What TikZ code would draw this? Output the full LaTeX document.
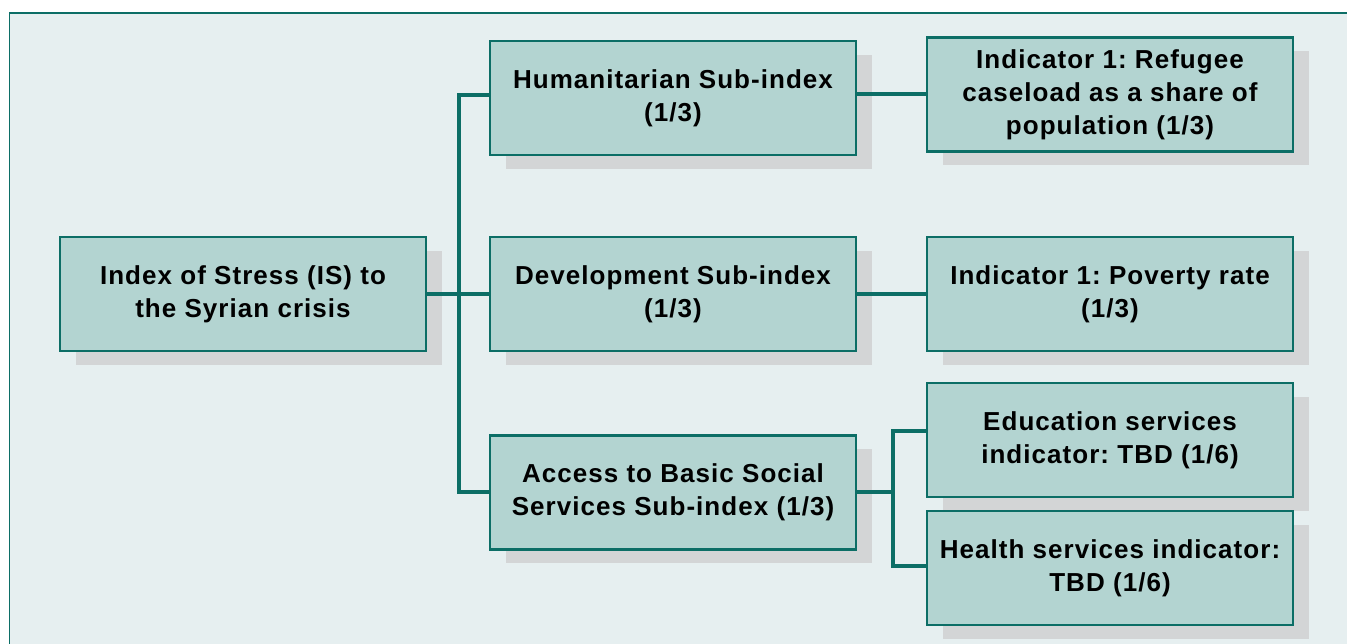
\documentclass[tikz,border=0pt]{standalone}
\usepackage{fontspec}
\setmainfont{Liberation Sans}[LetterSpace=4]
\usetikzlibrary{shadows}
\frenchspacing

\definecolor{panelfill}{HTML}{E6EFF0}
\definecolor{tealline}{HTML}{0C6E66}
\definecolor{boxfill}{HTML}{B3D4D1}
\definecolor{shadowgray}{HTML}{D3D5D6}

\tikzset{
  indexbox/.style={draw=tealline, line width=2.5pt, fill=boxfill,
    minimum width=366pt, minimum height=114pt, inner sep=0pt, align=center,
    font=\fontsize{26}{33}\selectfont\bfseries,
    drop shadow={shadow xshift=16pt, shadow yshift=-14pt, fill=shadowgray, opacity=1}},
  link/.style={draw=tealline, line width=4pt}
}

\begin{document}
\begin{tikzpicture}[x=1pt, y=1pt]
  \useasboundingbox (0,0) rectangle (1347,644);
  \clip (0,0) rectangle (1347,644);

  % Draw panel
  \draw[draw=tealline, line width=1.5pt, fill=panelfill] (9.5,631) rectangle (1370,-20);

  % index and sub-indices
  \node[indexbox] (is) at (243,350) {Index of Stress (IS) to\\the Syrian crisis};
  \node[indexbox] (hum) at (673,546) {Humanitarian Sub-index\\(1/3)};
  \node[indexbox] (dev) at (673,350) {Development Sub-index\\(1/3)};
  \node[indexbox] (acc) at (673,151.5) {Access to Basic Social\\Services Sub-index (1/3)};

  % indicators
  \node[indexbox] (refugee) at (1110,549.5) {Indicator 1: Refugee\\caseload as a share of\\population (1/3)};
  \node[indexbox] (poverty) at (1110,350) {Indicator 1: Poverty rate\\(1/3)};
  \node[indexbox] (educ) at (1110,204) {Education services\\indicator: TBD (1/6)};
  \node[indexbox] (health) at (1110,76) {Health services indicator:\\TBD (1/6)};

  % bus lines
  \coordinate (bus) at (459,350);
  \coordinate (fork) at (893,151.5);

  \draw[link] (is) -- (dev);
  \draw[link] ([yshift=3pt]hum.west) -| (bus) |- (acc.west);
  \draw[link] (refugee.west -| hum.east) -- (refugee.west);
  \draw[link] (dev) -- (poverty);
  \draw[link] (acc) -- (fork);
  \draw[link] ([yshift=9pt]educ.west) -| (fork) |- ([yshift=2pt]health.west);
\end{tikzpicture}
\end{document}
